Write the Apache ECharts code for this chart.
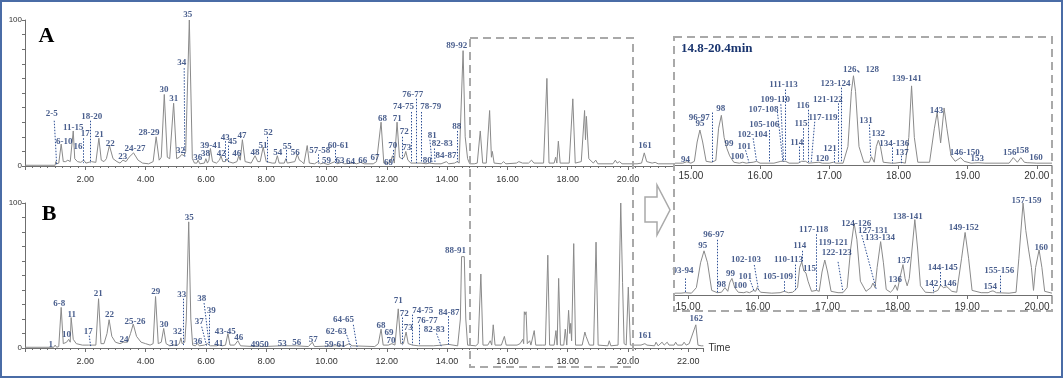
<!DOCTYPE html>
<html><head><meta charset="utf-8">
<script src="https://cdn.jsdelivr.net/npm/echarts@6/dist/echarts.min.js"></script>
<style>html,body{margin:0;padding:0;background:#fff}#c{width:1063px;height:378px}</style>
</head><body><div id="c"></div>
<script>
// ---- tick labels ----
const ticksA = [2,4,6,8,10,12,14,16,18,20];
const ticksB = [2,4,6,8,10,12,14,16,18,20,22];
const ticksZoom = [15,16,17,18,19,20];

// ---- chromatogram traces [time(min), intensity(%)] ----
const traceA = [[0,0.5],[1.0,0.5],[1.02,3],[1.05,1.5],[1.12,2],[1.2,15],[1.27,3],[1.35,3],[1.42,4],[1.5,3],[1.55,4],[1.6,24],[1.65,5],[1.7,6],[1.74,3],[1.85,2.5],[1.95,4],[2.02,2],[2.2,3],[2.35,2.5],[2.45,19],[2.53,4],[2.62,3],[2.7,5],[2.8,14],[2.92,5],[3.05,3],[3.15,2],[3.25,4],[3.35,3],[3.45,6],[3.6,9],[3.75,4],[3.9,2],[4.1,1.5],[4.25,3],[4.35,20],[4.45,4],[4.52,6],[4.62,49],[4.72,6],[4.8,5],[4.93,43],[5.03,5],[5.12,6],[5.2,8],[5.27,7],[5.33,10],[5.45,100],[5.55,5],[5.62,2],[5.7,2],[5.74,4],[5.8,1.5],[5.95,2],[6.0,5],[6.05,2],[6.1,4],[6.15,12],[6.22,3],[6.35,2],[6.45,4],[6.5,7],[6.56,3],[6.65,3],[6.7,5],[6.75,3],[6.9,2],[7.03,3],[7.09,7],[7.14,4],[7.21,18],[7.3,3],[7.5,2],[7.63,7],[7.72,3],[7.8,3],[7.9,13],[8.0,3],[8.2,2],[8.3,2],[8.37,7],[8.43,2],[8.6,2],[8.65,5],[8.7,2],[8.95,3],[9.03,8],[9.1,4],[9.18,3],[9.25,1.5],[9.36,14],[9.43,2],[9.6,1.5],[9.72,3],[9.8,1.5],[9.9,2],[10.05,1],[10.28,3],[10.35,1.5],[10.5,2.5],[10.6,1.5],[10.9,2],[11.0,1.5],[11.13,2.5],[11.25,1.5],[11.55,1.5],[11.66,3],[11.72,2],[11.81,30],[11.9,2],[12.0,2],[12.1,2],[12.19,7],[12.25,2],[12.34,30],[12.42,6],[12.5,5],[12.57,6],[12.63,10],[12.7,4],[12.8,2],[12.97,2],[13.14,2],[13.3,1.5],[13.42,2],[13.6,1.5],[13.8,1.5],[13.98,3],[14.05,1.5],[14.25,2],[14.33,3],[14.4,2],[14.53,79],[14.6,20],[14.68,5],[14.75,1.5],[14.9,1.5],[15.0,2],[15.1,24],[15.18,2],[15.3,2],[15.41,38],[15.47,6],[15.5,10],[15.56,2],[15.8,1.5],[15.87,3],[15.95,1.5],[16.3,2],[16.38,3],[16.5,2],[16.7,2],[16.8,4],[16.88,2],[17.2,2],[17.31,60],[17.38,2],[17.55,2],[17.6,6],[17.64,2],[17.69,17],[17.75,2],[18.05,2],[18.17,46],[18.25,2],[18.45,3],[18.56,38],[18.59,18],[18.62,34],[18.7,5],[18.85,2],[18.93,4],[19.0,1.5],[19.5,1.5],[19.58,4],[19.64,2],[19.72,3],[19.8,1.5],[20.3,1.5],[20.45,2],[20.54,9],[20.62,3],[20.8,2],[20.9,2.5],[21.0,1.5],[21.5,1.5]];

const traceB = [[0,0.5],[0.95,0.5],[1.0,2],[1.05,0.5],[1.12,1],[1.2,28],[1.27,3],[1.38,4],[1.45,6],[1.5,4],[1.53,21],[1.6,6],[1.7,3],[1.9,2],[2.1,2],[2.16,3],[2.25,2],[2.35,2],[2.44,34],[2.52,3],[2.62,3],[2.72,10],[2.79,19.5],[2.88,8],[3.0,4],[3.15,3],[3.26,4],[3.4,4],[3.5,10],[3.59,16.5],[3.7,8],[3.85,4],[4.0,3],[4.15,2],[4.25,3],[4.33,35.5],[4.42,3],[4.52,4],[4.6,13.5],[4.68,3],[4.8,1.5],[4.9,2],[5.05,2],[5.12,3],[5.17,7],[5.21,3],[5.25,3],[5.3,4],[5.35,20],[5.43,87],[5.5,20],[5.56,2],[5.65,1.5],[5.72,3],[5.78,1.5],[5.95,2],[6.05,3],[6.15,1.5],[6.35,1.5],[6.45,2],[6.55,1.5],[6.65,2],[6.73,10],[6.8,2],[6.95,2],[7.06,5],[7.15,1.5],[7.6,1],[7.7,1.5],[7.9,1],[8.5,1.5],[9.0,1.5],[9.4,1],[9.53,4],[9.6,1],[10.3,1.5],[10.6,1.5],[10.75,3],[10.85,1.5],[11.6,1],[11.72,3],[11.81,13],[11.88,2],[12.05,2],[12.17,3],[12.27,2],[12.38,27],[12.46,3],[12.55,3],[12.64,11],[12.71,3],[12.85,2],[13.05,1.5],[13.55,1.5],[13.82,2],[14.04,2.5],[14.35,1.5],[14.44,20],[14.48,63],[14.57,63],[14.62,20],[14.68,2],[14.95,1.5],[15.03,3],[15.12,51],[15.19,2],[15.35,2],[15.43,5],[15.48,2],[15.53,16],[15.59,2],[15.8,2],[15.9,8],[15.96,2],[16.32,2],[16.42,3],[16.46,2],[16.51,6],[16.54,3],[16.56,25],[16.59,23],[16.62,25],[16.66,3],[16.74,5],[16.78,2],[16.89,12],[16.94,2],[17.16,2],[17.21,3],[17.26,2],[17.34,64],[17.4,2],[17.55,2],[17.61,12],[17.65,2],[17.7,48],[17.76,2],[17.87,2],[17.92,13],[17.97,2],[18.03,26],[18.07,10],[18.1,17],[18.13,5],[18.2,72],[18.26,2],[18.48,2],[18.57,11],[18.61,8],[18.66,9],[18.72,2],[18.86,2],[18.94,73],[19.01,2],[19.33,1.5],[19.38,5],[19.43,1.5],[19.67,2],[19.76,100],[19.82,45],[19.87,3],[19.94,2],[20.01,42],[20.08,2],[20.43,2],[20.56,3],[20.63,2],[20.88,1.5],[20.93,4],[21.0,1.5],[21.13,4],[21.2,2],[21.3,4],[21.36,2],[21.53,2],[21.58,4],[21.64,2],[21.8,2],[21.86,4],[21.93,2],[22.03,3],[22.08,2],[22.25,16],[22.32,2],[22.38,3],[22.43,1.5],[22.5,1.5]];

// zoomed 14.8-20.4 min views (own relative scale)
const zoomA = [[14.77,2],[14.88,2],[14.94,3.5],[15.0,2],[15.05,4],[15.09,25],[15.13,38],[15.17,25],[15.22,4],[15.3,3],[15.36,5],[15.4,40],[15.44,54],[15.48,30],[15.52,18],[15.56,10],[15.62,3],[15.7,2],[15.75,3],[15.8,2],[15.84,2.5],[15.9,3],[15.95,4],[16.0,2],[16.1,2],[16.2,2],[16.3,4],[16.37,4],[16.42,2],[16.55,2],[16.6,4],[16.66,4],[16.7,2],[16.85,3],[16.9,2],[17.0,2],[17.06,3],[17.1,2],[17.2,2],[17.27,20],[17.32,80],[17.35,97],[17.38,80],[17.43,20],[17.5,3],[17.58,3],[17.61,9],[17.65,3],[17.68,20],[17.71,27],[17.74,20],[17.78,3],[17.9,2],[17.95,2],[18.04,3],[18.1,2],[18.15,30],[18.19,86],[18.23,30],[18.28,3],[18.45,3],[18.52,40],[18.56,57],[18.61,24],[18.66,62],[18.7,40],[18.76,10],[18.82,4],[18.9,8],[18.95,4],[19.05,2],[19.15,2.5],[19.25,2],[19.6,2],[19.66,8],[19.72,3],[19.77,8],[19.82,3],[19.86,2.5],[20.0,2],[20.22,2]];

const zoomB = [[14.81,2],[14.9,2],[14.96,2.5],[15.05,2],[15.12,8],[15.18,35],[15.23,48],[15.28,35],[15.34,5],[15.42,2.5],[15.48,3],[15.53,8],[15.57,4],[15.6,14],[15.63,18],[15.67,8],[15.72,3],[15.8,2.5],[15.84,3.5],[15.88,2.5],[15.94,5],[15.97,4],[15.99,8],[16.04,3],[16.2,2],[16.32,2.5],[16.38,4],[16.44,2.5],[16.5,3],[16.53,5],[16.57,8],[16.6,30],[16.63,36],[16.66,26],[16.69,24],[16.72,15],[16.77,4],[16.84,5],[16.88,4],[16.92,25],[16.96,38],[17.0,25],[17.05,4],[17.15,2.5],[17.22,2.5],[17.28,8],[17.33,50],[17.38,78],[17.42,60],[17.47,15],[17.55,4],[17.62,8],[17.65,13],[17.68,8],[17.71,30],[17.76,58],[17.8,35],[17.84,6],[17.9,3],[17.94,6],[17.97,11],[18.0,5],[18.04,20],[18.08,33],[18.11,18],[18.14,10],[18.17,18],[18.21,50],[18.25,82],[18.29,50],[18.33,10],[18.4,3],[18.5,2.5],[18.58,5],[18.62,11],[18.66,8],[18.71,9],[18.78,4],[18.85,3],[18.92,40],[18.97,68],[19.02,40],[19.07,5],[19.2,2.5],[19.3,2.5],[19.34,4],[19.37,4.5],[19.42,2.5],[19.6,2],[19.7,3],[19.74,40],[19.8,100],[19.84,70],[19.88,49],[19.92,30],[19.95,5],[19.98,30],[20.03,49],[20.07,30],[20.11,4],[20.215,2]];

// ---- peak labels [text, time, level] ----
const labelsA = [['2-5',0.885,36],['6-10',1.30,16.6],['11-15',1.60,26.5],['16',1.76,13.2],['17',2.0,22],['18-20',2.21,33.8],['21',2.46,21.7],['22',2.83,15],['23',3.24,6.4],['24-27',3.65,11.9],['28-29',4.11,23],['30',4.61,52],['31',4.93,46.4],['32',5.16,10.5],['34',5.20,71],['35',5.40,103.6],['36',5.73,6],['38',5.99,8.2],['39-41',6.16,13.9],['42',6.51,8.7],['43',6.64,19.6],['45',6.88,16.6],['46',7.02,8.2],['47',7.2,20.8],['48',7.63,9.1],['51',7.89,13.7],['52',8.07,22.8],['54',8.38,9.1],['55',8.7,13.2],['56',8.96,9.1],['57-58',9.78,10.5],['59',10.0,3.6],['60-61',10.39,13.9],['63',10.45,3.6],['64',10.8,2.9],['66',11.2,3.6],['67',11.61,6],['68',11.86,32.2],['69',12.06,2.5],['70',12.2,13.9],['71',12.35,32.2],['72',12.58,23.5],['73',12.66,12.8],['74-75',12.55,40.6],['76-77',12.86,49],['78-79',13.46,40.6],['80',13.34,3.4],['81',13.51,20.5],['82-83',13.84,15],['84-87',13.96,7.1],['88',14.32,27],['89-92',14.32,82.4],['161',20.56,13.9]];
const labelsB = [['1',0.85,2.5],['6-8',1.14,30.8],['10',1.38,9],['11',1.55,23.2],['17',2.1,11.3],['21',2.43,37.7],['22',2.8,22.8],['24',3.28,5.5],['25-26',3.65,18.1],['29',4.34,38.9],['30',4.61,16.3],['31',4.93,3.2],['32',5.06,11.3],['33',5.2,37],['35',5.45,90.1],['36',5.73,4.4],['37',5.78,18.1],['38',5.86,33.8],['39',6.18,25.5],['41',6.43,3.2],['43-45',6.64,11.3],['46',7.09,7.1],['4950',7.79,2.5],['53',8.53,2.8],['56',9.01,3.9],['57',9.56,5.5],['59-61',10.28,2.5],['62-63',10.32,11.3],['64-65',10.56,19.3],['68',11.81,15.2],['69',12.07,10.8],['70',12.14,4.8],['71',12.38,32.4],['72',12.58,23.9],['73',12.71,14],['74-75',13.19,25.7],['76-77',13.34,18.6],['82-83',13.57,12.9],['84-87',14.06,24.6],['88-91',14.28,66.9],['161',20.56,8.3],['162',22.26,20.5]];
const labelsZA = [['94',14.92,6.2],['96-97',15.12,51.8],['95',15.13,44.6],['98',15.43,61.6],['99',15.55,22.8],['100',15.67,9],['101',15.77,19.9],['102-104',15.89,33.3],['105-106',16.06,43.5],['107-108',16.05,59.8],['109-110',16.22,70.7],['111-113',16.34,87],['114',16.53,24.3],['115',16.59,44.6],['116',16.62,64.1],['117-119',16.91,51.4],['120',16.9,7.2],['121',17.01,18.1],['121-122',16.98,71.4],['123-124',17.09,88.8],['126、128',17.46,104],['131',17.53,48.2],['132',17.71,33.7],['134-136',17.94,22.8],['137',18.05,13.4],['139-141',18.12,94.2],['143',18.55,58.7],['146-150',18.96,13.8],['153',19.14,6.5],['156',19.61,13.4],['158',19.79,15.5],['160',19.99,8.4]];
const labelsZB = [['93-94',14.93,26.4],['96-97',15.37,65.2],['95',15.21,53.3],['98',15.48,10.9],['99',15.61,22.8],['100',15.75,9.8],['101',15.82,19.9],['102-103',15.83,38],['105-109',16.29,19.9],['110-113',16.44,38],['114',16.6,53.6],['115',16.74,29],['117-118',16.8,71.4],['119-121',17.08,56.9],['122-123',17.13,46],['124-126',17.41,78],['127-131',17.65,70],['133-134',17.75,62.3],['136',17.97,16.3],['137',18.09,37.3],['138-141',18.15,85.1],['142',18.49,12.7],['144-145',18.65,30.1],['146',18.75,12.7],['149-152',18.95,73.2],['154',19.33,9],['155-156',19.46,26.4],['157-159',19.85,103],['160',20.06,51.8]];

// ---- dotted leader lines [t1, v1, t2, v2] ----
const leadersA = [[0.97,31,1.05,1],[1.94,19,1.94,2],[2.16,31,2.16,2],[5.28,67,5.3,6],[6.65,17,6.65,3],[6.74,14,6.74,2],[8.05,20,8.05,2],[8.65,11,8.65,3],[9.73,8,9.73,1.5],[10.28,11,10.28,2],[12.2,11,12.2,3],[12.5,20,12.5,4],[12.8,37,12.8,2],[12.98,46,12.98,2],[13.14,37,13.14,2],[13.43,18,13.5,2],[13.58,12,13.6,2],[14.35,24,14.35,3]];
const leadersB = [[2.13,8.5,2.18,1],[5.25,34,5.25,2],[5.86,14.7,6.03,1],[5.94,31,6.11,2],[6.11,23,6.11,2],[10.67,9,10.81,0.5],[10.89,16,11.02,0],[12.5,21,12.5,2],[12.85,23,12.85,2],[13.07,16,13.07,2],[13.65,10,13.82,0.5],[14.04,22,14.04,2]];
const leadersZA = [[15.31,57,15.31,2],[15.79,16,15.84,2.5],[15.9,29,15.95,3.6],[16.13,38,16.13,2.5],[16.25,58,16.33,3.6],[16.30,66,16.34,3.6],[16.36,82,16.36,3.6],[16.57,20,16.57,3],[16.63,40,16.63,4],[16.7,60,16.7,3],[16.79,47,16.74,3.6],[17.07,14,17.07,3],[17.13,67,17.13,3],[17.18,84,17.18,3],[17.58,44,17.6,8],[17.91,19,17.91,2],[18.04,10,18.04,2]];
const leadersZB = [[14.96,18,14.96,2],[15.42,60,15.42,2],[15.89,16,15.95,3.6],[15.95,32.6,16.01,5.4],[16.38,15,16.38,4],[16.53,33,16.53,5],[16.63,48,16.63,36],[16.84,66,16.84,5],[17.15,36,17.22,3.6],[17.49,65,17.7,5.4],[18.51,9,18.51,2],[18.62,25,18.62,10],[19.47,21,19.47,2]];

// ---- styling ----
const TRACE = '#8a8a8a', AXIS = '#6f6f6f', NAVY = '#1b3670', DASH = '#a9a9a9';
const PX = 30.15; // px per minute in main panels

function mainX(gi, max, ticks, name) {
  return {
    type: 'value', gridIndex: gi, min: 0, max: max, interval: 2,
    axisLine: { show: true, onZero: false, lineStyle: { color: AXIS, width: 1 } },
    axisTick: { show: true, length: 4, lineStyle: { color: AXIS } },
    minorTick: { show: true, splitNumber: 8, length: 2, lineStyle: { color: AXIS } },
    splitLine: { show: false }, minorSplitLine: { show: false },
    axisLabel: { fontSize: 9, color: '#333', margin: 9, fontFamily: 'Liberation Sans',
      formatter: v => ticks.indexOf(Math.round(v * 100) / 100) >= 0 ? v.toFixed(2) : '' },
    name: name || '', nameLocation: 'end', nameGap: 5,
    nameTextStyle: { fontSize: 10, color: '#333', fontFamily: 'Liberation Sans', verticalAlign: 'middle' }
  };
}
function mainY(gi) {
  return {
    type: 'value', gridIndex: gi, min: 0, max: 100, interval: 50,
    axisLine: { show: true, lineStyle: { color: AXIS, width: 1 } },
    axisTick: { show: true, length: 3, lineStyle: { color: AXIS } },
    minorTick: { show: true, splitNumber: 5, length: 3, lineStyle: { color: AXIS } },
    splitLine: { show: false }, minorSplitLine: { show: false },
    axisLabel: { fontSize: 8, color: '#333', margin: 3, fontFamily: 'Liberation Sans',
      formatter: v => (v === 50 ? '' : String(v)) },
    name: '%', nameLocation: 'middle', nameGap: 12, nameRotate: 90,
    nameTextStyle: { fontSize: 8, color: '#333', fontFamily: 'Liberation Sans' }
  };
}
function zoomX(gi, min, max, margin) {
  return {
    type: 'value', gridIndex: gi, min: min, max: max,
    axisLine: { show: true, onZero: false, lineStyle: { color: AXIS, width: 1 } },
    axisTick: { show: true, length: 4, customValues: ticksZoom, lineStyle: { color: AXIS } },
    splitLine: { show: false },
    axisLabel: { fontSize: 10, color: '#333', margin: margin, fontFamily: 'Liberation Sans',
      customValues: ticksZoom, formatter: v => v.toFixed(2) }
  };
}
function zoomY(gi) {
  return { type: 'value', gridIndex: gi, min: 0, max: 100, show: false };
}
function traceSeries(data, xi) {
  return { type: 'line', xAxisIndex: xi, yAxisIndex: xi, data: data, showSymbol: false, symbol: 'none',
    lineStyle: { color: TRACE, width: 1 }, silent: true, animation: false, z: 2 };
}
function labelSeries(list, xi) {
  return { type: 'scatter', xAxisIndex: xi, yAxisIndex: xi, clip: false, silent: true, animation: false,
    symbol: 'circle', symbolSize: 1, itemStyle: { color: 'rgba(0,0,0,0)' }, z: 5,
    data: list.map(l => ({ name: l[0], value: [l[1], l[2]] })),
    label: { show: true, position: 'inside', formatter: '{b}', color: NAVY, fontSize: 9,
      fontWeight: 'bold', fontFamily: 'Liberation Serif, Noto Sans CJK SC' },
    labelLayout: { hideOverlap: false } };
}
function leaderSeries(list, xi) {
  return { type: 'lines', coordinateSystem: 'cartesian2d', xAxisIndex: xi, yAxisIndex: xi,
    silent: true, animation: false, z: 4, symbol: 'none',
    lineStyle: { color: '#2d4f95', width: 1, type: [1.5, 1.5], opacity: 1 },
    data: list.map(d => ({ coords: [[d[0], d[1]], [d[2], d[3]]] })) };
}
function grid(l, t, w, h) {
  return { left: l, top: t, width: w, height: h, containLabel: false, outerBoundsMode: 'none' };
}

const chart = echarts.init(document.getElementById('c'), null, { renderer: 'canvas' });
chart.setOption({
  backgroundColor: '#fff',
  animation: false,
  grid: [
    grid(25, 20, 21.5 * PX, 146),
    grid(25, 203, 22.5 * PX, 145),
    grid(675, 73, 377, 92),
    grid(675, 203, 377, 92)
  ],
  xAxis: [mainX(0, 21.5, ticksA), mainX(1, 22.5, ticksB, 'Time'), zoomX(2, 14.77, 20.22, 6), zoomX(3, 14.814, 20.215, 7)],
  yAxis: [mainY(0), mainY(1), zoomY(2), zoomY(3)],
  series: [
    traceSeries(traceA, 0), traceSeries(traceB, 1), traceSeries(zoomA, 2), traceSeries(zoomB, 3),
    leaderSeries(leadersA, 0), leaderSeries(leadersB, 1), leaderSeries(leadersZA, 2), leaderSeries(leadersZB, 3),
    labelSeries(labelsA, 0), labelSeries(labelsB, 1), labelSeries(labelsZA, 2), labelSeries(labelsZB, 3)
  ],
  graphic: [
    { type: 'rect', z: 100, silent: true, shape: { x: 1, y: 1, width: 1061, height: 376 },
      style: { fill: 'none', stroke: '#4a6ca6', lineWidth: 2 } },
    { type: 'rect', z: 100, silent: true, shape: { x: 470, y: 38, width: 163, height: 329 },
      style: { fill: 'none', stroke: DASH, lineWidth: 2, lineDash: [8, 5] } },
    { type: 'rect', z: 100, silent: true, shape: { x: 674, y: 37, width: 378, height: 274 },
      style: { fill: 'none', stroke: DASH, lineWidth: 2, lineDash: [8, 5] } },
    { type: 'polygon', z: 100, silent: true,
      shape: { points: [[645, 197], [657, 197], [657, 185], [670, 210], [657, 235], [657, 222], [645, 222]] },
      style: { fill: '#fff', stroke: DASH, lineWidth: 1.5 } },
    { type: 'text', z: 100, silent: true, x: 46.5, y: 36,
      style: { text: 'A', font: 'bold 22px "Liberation Serif"', fill: '#000', align: 'center', verticalAlign: 'middle' } },
    { type: 'text', z: 100, silent: true, x: 49, y: 214,
      style: { text: 'B', font: 'bold 22px "Liberation Serif"', fill: '#000', align: 'center', verticalAlign: 'middle' } },
    { type: 'text', z: 100, silent: true, x: 681, y: 49,
      style: { text: '14.8-20.4min', font: 'bold 13px "Liberation Serif"', fill: NAVY, align: 'left', verticalAlign: 'middle' } }
  ]
});
</script></body></html>
